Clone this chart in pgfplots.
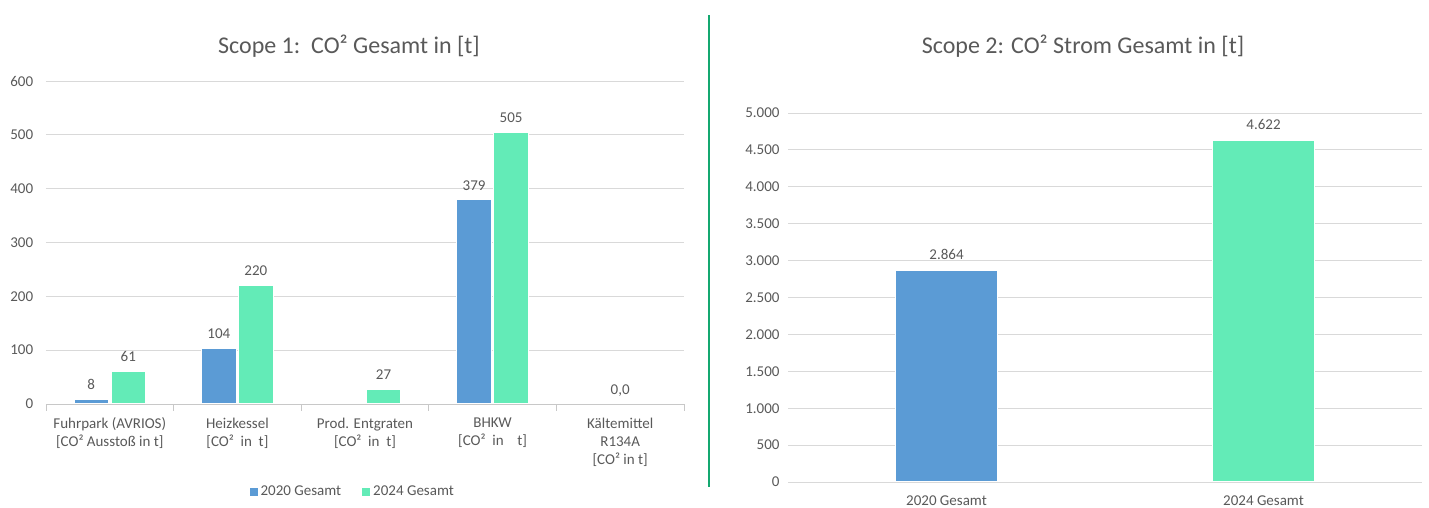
\documentclass[border=0pt]{standalone}
\usepackage{pgfplots}
\pgfplotsset{compat=1.18}
\usepackage{fontspec}
\setmainfont{Carlito}

\definecolor{barblue}{RGB}{91,155,213}
\definecolor{bargreen}{RGB}{99,235,183}
\definecolor{gridgray}{RGB}{217,217,217}
\definecolor{axisgray}{RGB}{200,200,200}
\definecolor{textgray}{RGB}{89,89,89}
\definecolor{sepgreen}{RGB}{20,168,112}

\pgfplotsset{
  chartbase/.style={
    scale only axis,
    ymajorgrids,
    grid style={gridgray, line width=0.9pt},
    y axis line style={draw=none},
    ytick style={draw=none},
    tick label style={font=\fontsize{15}{18}\selectfont, text=textgray},
    yticklabel style={xshift=-5pt},
    /pgf/number format/assume math mode=true,
    /pgf/number format/.cd, use comma, 1000 sep={.},
  },
}

\begin{document}
\begin{tikzpicture}
\useasboundingbox (0,0) rectangle (1429pt,508pt);

% Scope 1
\node[font=\fontsize{24}{28}\selectfont, text=textgray] at (349pt,462pt) {Scope 1:\ \ CO² Gesamt in [t]};
\begin{axis}[
  chartbase,
  at={(46pt,104pt)}, anchor=south west,
  width=638pt, height=323pt,
  ymin=0, ymax=600, ytick={0,100,...,600},
  xmin=-0.5, xmax=4.5,
  axis x line*=bottom,
  x axis line style={axisgray, line width=0.9pt},
  xtick={0,1,2,3,4},
  major x tick style={draw=none},
  minor xtick={-0.5,0.5,1.5,2.5,3.5,4.5},
  minor x tick style={axisgray, line width=0.9pt},
  tick align=outside,
  minor tick length=7pt,
  xticklabels={
    {Fuhrpark (AVRIOS)\\{[CO² Ausstoß in t]}},
    {Heizkessel\\{[CO²~ in~ t]}},
    {Prod. Entgraten\\{[CO²~ in~ t]}},
    {BHKW\\{[CO²~ in~~~ t]}},
    {Kältemittel\\R134A\\{[CO² in t]}}},
  xticklabel style={align=center, font=\fontsize{15}{18}\selectfont, text=textgray, yshift=-6pt},
  ybar, bar width=0.27,
  nodes near coords,
  nodes near coords style={font=\fontsize{15}{18}\selectfont, text=textgray, yshift=6pt},
  legend style={draw=none, at={(0.48,-0.272)}, anchor=center, legend columns=2,
    font=\fontsize{15}{18}\selectfont, text=textgray,
    /tikz/every even column/.append style={column sep=18pt}},
  legend image code/.code={\fill[#1] (0pt,-4.5pt) rectangle (9pt,4.5pt);},
]
\addplot[fill=barblue, draw=white, line width=1pt, bar shift=-0.145] coordinates {
  (0,8) (1,104) (3,379)
};
\addplot[fill=bargreen, draw=white, line width=1pt, bar shift=0.145] coordinates {
  (0,61) (1,220) (2,27) (3,505)
};
\legend{2020 Gesamt, 2024 Gesamt}
\node[font=\fontsize{15}{18}\selectfont, text=textgray, anchor=south] at (axis cs:4,0) [yshift=4pt] {0,0};
\end{axis}

% separator
\draw[sepgreen, line width=1.5pt] (709pt,21pt) -- (709pt,493pt);

% Scope 2
\node[font=\fontsize{24}{28}\selectfont, text=textgray] at (1083pt,462pt) {Scope 2: CO² Strom Gesamt in [t]};
\begin{axis}[
  chartbase,
  at={(788pt,26pt)}, anchor=south west,
  width=634pt, height=369pt,
  ymin=0, ymax=5000, ytick={0,500,...,5000},
  xmin=-0.5, xmax=1.5,
  x axis line style={draw=none},
  axis x line*=bottom,
  xtick={0,1},
  xtick style={draw=none},
  xticklabels={2020 Gesamt, 2024 Gesamt},
  xticklabel style={yshift=-6pt},
  ybar, bar width=0.32, bar shift=0,
  nodes near coords,
  nodes near coords style={font=\fontsize{15}{18}\selectfont, text=textgray, yshift=7pt,
    /pgf/number format/.cd, use comma, 1000 sep={.}, assume math mode=true},
]
\addplot[fill=barblue, draw=white, line width=1pt] coordinates {(0,2864)};
\addplot[fill=bargreen, draw=white, line width=1pt] coordinates {(1,4622)};
\end{axis}
\end{tikzpicture}
\end{document}
